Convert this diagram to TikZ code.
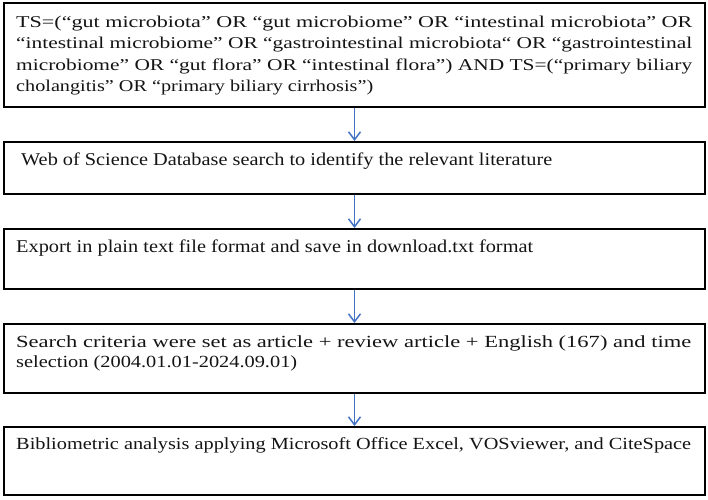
\documentclass[tikz,border=0pt]{standalone}
\usepackage{fontspec}
\usepackage{graphicx}
\setmainfont{Liberation Serif}
\usetikzlibrary{arrows.meta}
\newbox\fitbox
\newcommand\fitline[2]{\setbox\fitbox=\hbox{#2}\pgfmathsetmacro\fitfac{#1/\the\wd\fitbox}\scalebox{\fitfac}[1]{\box\fitbox}}
\definecolor{arrowblue}{RGB}{68,114,196}
\definecolor{txtcol}{RGB}{20,20,20}
\begin{document}
\begin{tikzpicture}[x=1pt,y=-1pt,
  box/.style={draw=black,line width=2pt,rectangle,inner sep=0pt,minimum width=701pt},
  txt/.style={inner sep=0pt,anchor=base west,text=txtcol},
  flow/.style={draw=arrowblue,line width=1.5pt,-{Straight Barb[length=8pt,width=12pt]}}]
\useasboundingbox (0,0) rectangle (708,499);
% boxes
\node[box,minimum height=104pt] (b1) at (354.5,55) {};
\node[box,minimum height=52pt]  (b2) at (354.5,168) {};
\node[box,minimum height=60pt]  (b3) at (354.5,259) {};
\node[box,minimum height=69pt]  (b4) at (354.5,358.5) {};
\node[box,minimum height=68pt]  (b5) at (354.5,461) {};
% texts
\node[txt] (t1) at (16,27) {\parbox[t]{676pt}{\fontsize{16.5}{21.5}\selectfont
\fitline{676pt}{TS=(“gut microbiota” OR “gut microbiome” OR “intestinal microbiota” OR}\\
\fitline{676pt}{“intestinal microbiome” OR “gastrointestinal microbiota“ OR “gastrointestinal}\\
\fitline{676pt}{microbiome” OR “gut flora” OR “intestinal flora”) AND TS=(“primary biliary}\\
\fitline{357pt}{cholangitis” OR “primary biliary cirrhosis”)}}};
\node[txt] (t2) at (21,165) {\fontsize{18}{21.5}\selectfont\fitline{531pt}{Web of Science Database search to identify the relevant literature}};
\node[txt] (t3) at (16,252.7) {\fontsize{18}{21.5}\selectfont\fitline{517pt}{Export in plain text file format and save in download.txt format}};
\node[txt] (t4) at (16,347) {\parbox[t]{676pt}{\fontsize{17}{20}\selectfont
\fitline{675pt}{Search criteria were set as article + review article + English (167) and time}\\
\fitline{281pt}{selection (2004.01.01-2024.09.01)}}};
\node[txt] (t5) at (16,449) {\fontsize{17}{20}\selectfont\fitline{675pt}{Bibliometric analysis applying Microsoft Office Excel, VOSviewer, and CiteSpace}};
% arrows
\draw[flow] (b1.south) -- (b2.north);
\draw[flow] (b2.south) -- (b3.north);
\draw[flow] (b3.south) -- (b4.north);
\draw[flow] (b4.south) -- (b5.north);
\end{tikzpicture}
\end{document}
